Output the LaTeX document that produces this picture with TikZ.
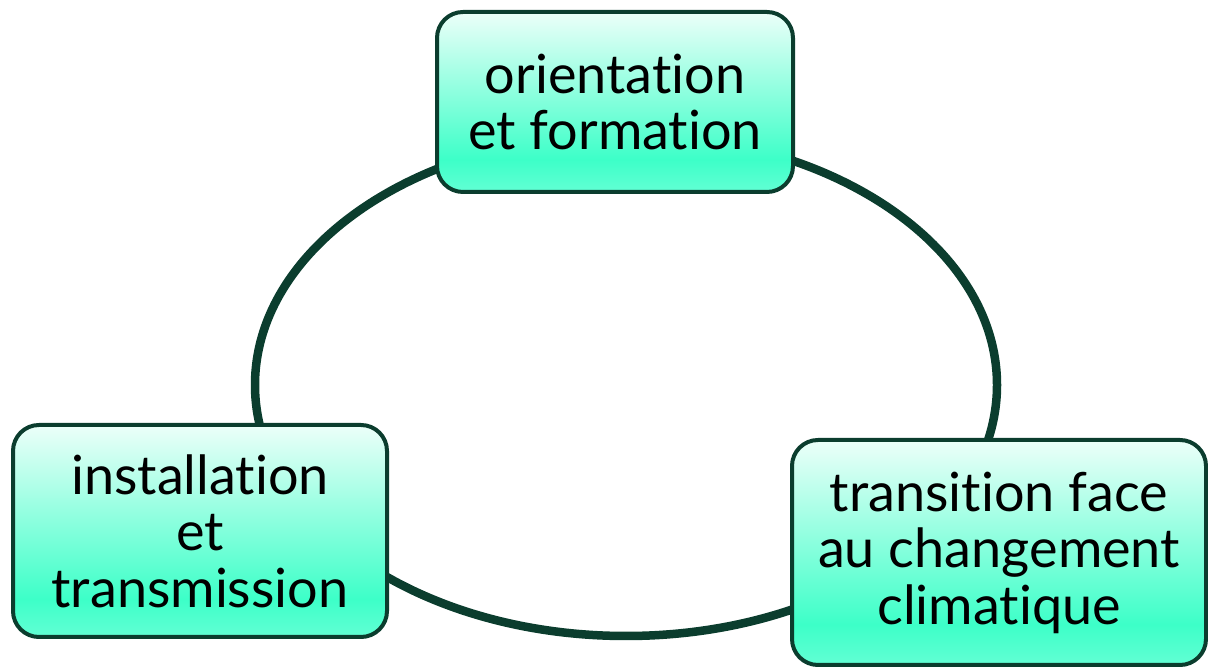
\documentclass[tikz,border=0pt]{standalone}
\usepackage{fontspec}
\setmainfont{Lato}[Ligatures={NoCommon,NoRare}]
\definecolor{edge}{HTML}{0B3D2E}
\definecolor{ctop}{HTML}{ECFFF9}
\definecolor{cmid}{HTML}{3DFFC8}
\definecolor{cbot}{HTML}{62FFD4}
\pgfdeclareverticalshading{boxshade}{100bp}{color(0bp)=(cbot); color(25bp)=(cbot); color(34bp)=(cmid); color(75bp)=(ctop); color(100bp)=(ctop)}
\tikzset{
  stage/.style={draw=edge, line width=4pt, rounded corners=26pt, shading=boxshade,
    align=center, inner sep=0pt, font=\fontsize{54}{56.5}\selectfont, text=black},
}
\begin{document}
\begin{tikzpicture}[x=1pt,y=1pt]
\useasboundingbox (0,0) rectangle (1208,668);
\draw[edge, line width=8.5pt] (626,283) ellipse [x radius=371, y radius=251];
\node[stage, minimum width=356pt, minimum height=180pt] (top) at (615,566) {orientation\\et formation};
\node[stage, minimum width=374pt, minimum height=212pt] (left) at (200,137) {installation\\et\\transmission};
\node[stage, minimum width=414pt, minimum height=225pt] (right) at (999,115.5) {transition face\\au changement\\climatique};
\end{tikzpicture}
\end{document}
